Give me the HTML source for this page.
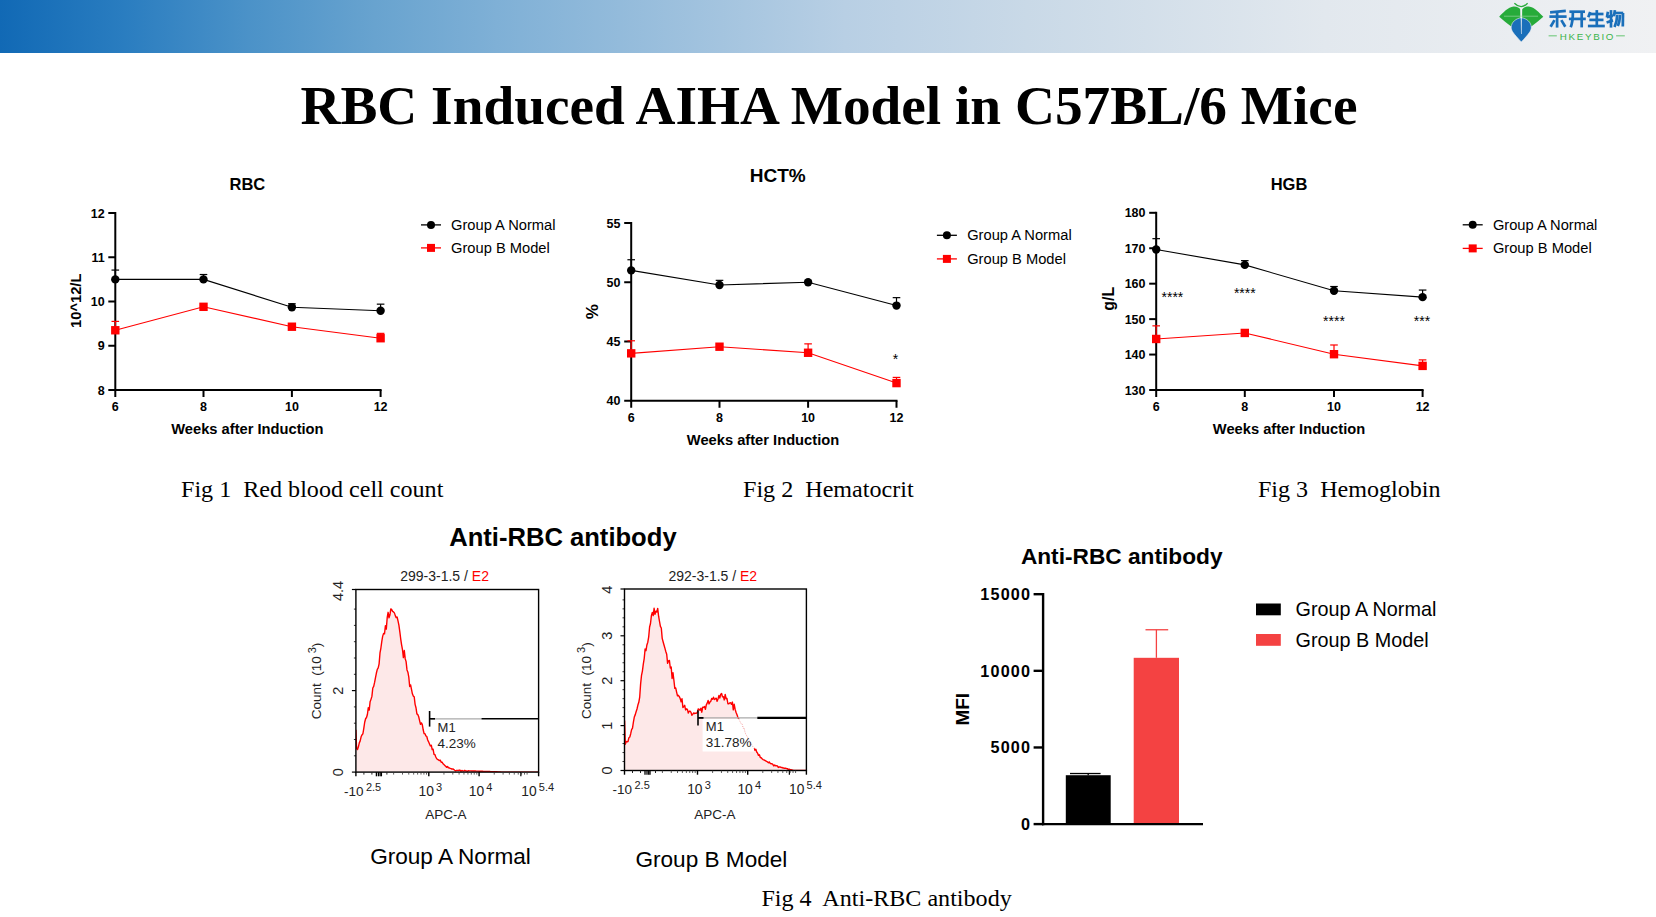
<!DOCTYPE html>
<html><head><meta charset="utf-8"><title>RBC Induced AIHA Model</title>
<style>html,body{margin:0;padding:0;background:#fff;overflow:hidden}body{width:1656px;height:917px;position:relative;font-family:"Liberation Sans", sans-serif}</style>
</head><body>
<svg width="1656" height="917" viewBox="0 0 1656 917" style="position:absolute;left:0;top:0">
<defs><linearGradient id="hdr" x1="0" y1="0" x2="1" y2="0"><stop offset="0" stop-color="#1169b5"/><stop offset="0.075" stop-color="#2a7dc0"/><stop offset="0.15" stop-color="#4b92c8"/><stop offset="0.226" stop-color="#68a3cf"/><stop offset="0.30" stop-color="#7fb0d6"/><stop offset="0.51" stop-color="#b8cfe4"/><stop offset="0.62" stop-color="#c9d9e7"/><stop offset="0.8" stop-color="#e2e8ee"/><stop offset="1" stop-color="#f0f1f3"/></linearGradient></defs>
<rect x="0" y="0" width="1656" height="53" fill="url(#hdr)"/>
<path d="M1499.2,16.7 C1503,13 1508,7 1513.6,6.6 C1517,6.4 1519.5,8 1520.3,9.5 L1520.6,26 L1511.2,26.5 C1507,23.5 1503,20 1499.2,16.7 Z" fill="#27ab3a"/>
<path d="M1543.3,16.7 C1539.5,13 1534.5,7 1528.9,6.4 C1525.5,6.2 1523,8 1522.2,9.5 L1522,26 L1531.3,26.5 C1535.5,23.5 1539.5,20 1543.3,16.7 Z" fill="#27ab3a"/>
<path d="M1521.3,17.7 C1516,18.5 1511.2,22 1511.2,27.5 C1511.2,31 1514,34 1521.3,42 C1528.6,34 1531.3,31 1531.3,27.5 C1531.3,22 1526.6,18.5 1521.3,17.7 Z" fill="#1a6fba" stroke="#eef0f2" stroke-width="0.6"/>
<path d="M1520.6,8.3 L1522,8.3 L1521.6,34 L1521,34 Z" fill="#f4f6f8" opacity="0.95"/>
<path d="M1504,16.2 L1538,16.2" stroke="#9fdca8" stroke-width="0.8" opacity="0.8"/>
<path d="M1514.4,3.2 Q1521.3,10 1527.6,3.2" fill="none" stroke="#27ab3a" stroke-width="1.3"/>
<path d="M1550.1,12.3 L1565.8,10.9" stroke="#1a6fba" stroke-width="2.7" stroke-linecap="butt" fill="none"/>
<path d="M1549.4,16.6 L1566.6,16.6" stroke="#1a6fba" stroke-width="2.7" stroke-linecap="butt" fill="none"/>
<path d="M1557.1,11.5 L1557.1,27.6" stroke="#1a6fba" stroke-width="2.7" stroke-linecap="butt" fill="none"/>
<path d="M1554.5,20.1 L1550.6,26.8" stroke="#1a6fba" stroke-width="2.7" stroke-linecap="butt" fill="none"/>
<path d="M1561.3,20.1 L1565.3,26.8" stroke="#1a6fba" stroke-width="2.7" stroke-linecap="butt" fill="none"/>
<path d="M1569.4,11.7 L1585,11.7" stroke="#1a6fba" stroke-width="2.7" stroke-linecap="butt" fill="none"/>
<path d="M1568.9,18.9 L1585.8,18.9" stroke="#1a6fba" stroke-width="2.7" stroke-linecap="butt" fill="none"/>
<path d="M1572.9,11.7 C1572.9,20 1572,24 1570.7,27.3" stroke="#1a6fba" stroke-width="2.7" stroke-linecap="butt" fill="none"/>
<path d="M1581.7,11.7 L1581.7,27.4" stroke="#1a6fba" stroke-width="2.7" stroke-linecap="butt" fill="none"/>
<path d="M1590.2,12 L1588.3,17.3" stroke="#1a6fba" stroke-width="2.7" stroke-linecap="butt" fill="none"/>
<path d="M1589.5,14 L1603.5,14" stroke="#1a6fba" stroke-width="2.7" stroke-linecap="butt" fill="none"/>
<path d="M1596.8,10.1 L1596.8,25.5" stroke="#1a6fba" stroke-width="2.7" stroke-linecap="butt" fill="none"/>
<path d="M1589.3,19.9 L1603.5,19.9" stroke="#1a6fba" stroke-width="2.7" stroke-linecap="butt" fill="none"/>
<path d="M1587.9,26 L1604.8,26" stroke="#1a6fba" stroke-width="2.7" stroke-linecap="butt" fill="none"/>
<path d="M1611,10.1 L1611,27.6" stroke="#1a6fba" stroke-width="2.7" stroke-linecap="butt" fill="none"/>
<path d="M1607.9,11.7 L1606.9,17.6" stroke="#1a6fba" stroke-width="2.7" stroke-linecap="butt" fill="none"/>
<path d="M1606.9,17.1 L1613,15.6" stroke="#1a6fba" stroke-width="2.7" stroke-linecap="butt" fill="none"/>
<path d="M1606.6,22.5 L1613,20.4" stroke="#1a6fba" stroke-width="2.7" stroke-linecap="butt" fill="none"/>
<path d="M1614.9,10.1 L1613.9,16.3" stroke="#1a6fba" stroke-width="2.7" stroke-linecap="butt" fill="none"/>
<path d="M1614.8,13 L1623.2,13" stroke="#1a6fba" stroke-width="2.7" stroke-linecap="butt" fill="none"/>
<path d="M1623,13 L1622.8,26.6" stroke="#1a6fba" stroke-width="2.7" stroke-linecap="butt" fill="none"/>
<path d="M1617.2,15 C1617,20 1616,24 1614.5,27" stroke="#1a6fba" stroke-width="2.7" stroke-linecap="butt" fill="none"/>
<path d="M1620,15 C1619.8,20 1619,23.5 1617.8,26" stroke="#1a6fba" stroke-width="2.7" stroke-linecap="butt" fill="none"/>
<text x="1559.7" y="39.9" font-size="9.8" font-family='"Liberation Sans", sans-serif' fill="#3cb54a" letter-spacing="1.7">HKEYBIO</text>
<line x1="1548.60" y1="35.80" x2="1556.80" y2="35.80" stroke="#7ccc86" stroke-width="1.2" />
<line x1="1616.10" y1="35.80" x2="1624.80" y2="35.80" stroke="#7ccc86" stroke-width="1.2" />
<text x="829.00" y="124.30" font-size="55.3" text-anchor="middle" font-weight="bold" fill="#000" font-family='"Liberation Serif", serif' >RBC Induced AIHA Model in C57BL/6 Mice</text>
<line x1="115.30" y1="212.00" x2="115.30" y2="391.00" stroke="#000" stroke-width="2" />
<line x1="114.30" y1="390.00" x2="381.60" y2="390.00" stroke="#000" stroke-width="2" />
<line x1="108.30" y1="213.00" x2="115.30" y2="213.00" stroke="#000" stroke-width="2" />
<text transform="translate(104.60,217.60) scale(0.92,1)" font-size="13.6" text-anchor="end" font-weight="bold" font-family='"Liberation Sans", sans-serif'>12</text>
<line x1="108.30" y1="257.25" x2="115.30" y2="257.25" stroke="#000" stroke-width="2" />
<text transform="translate(104.60,261.85) scale(0.92,1)" font-size="13.6" text-anchor="end" font-weight="bold" font-family='"Liberation Sans", sans-serif'>11</text>
<line x1="108.30" y1="301.50" x2="115.30" y2="301.50" stroke="#000" stroke-width="2" />
<text transform="translate(104.60,306.10) scale(0.92,1)" font-size="13.6" text-anchor="end" font-weight="bold" font-family='"Liberation Sans", sans-serif'>10</text>
<line x1="108.30" y1="345.75" x2="115.30" y2="345.75" stroke="#000" stroke-width="2" />
<text transform="translate(104.60,350.35) scale(0.92,1)" font-size="13.6" text-anchor="end" font-weight="bold" font-family='"Liberation Sans", sans-serif'>9</text>
<line x1="108.30" y1="390.00" x2="115.30" y2="390.00" stroke="#000" stroke-width="2" />
<text transform="translate(104.60,394.60) scale(0.92,1)" font-size="13.6" text-anchor="end" font-weight="bold" font-family='"Liberation Sans", sans-serif'>8</text>
<line x1="115.30" y1="390.00" x2="115.30" y2="397.00" stroke="#000" stroke-width="2" />
<text transform="translate(115.30,411.30) scale(0.92,1)" font-size="13.6" text-anchor="middle" font-weight="bold" font-family='"Liberation Sans", sans-serif'>6</text>
<line x1="203.50" y1="390.00" x2="203.50" y2="397.00" stroke="#000" stroke-width="2" />
<text transform="translate(203.50,411.30) scale(0.92,1)" font-size="13.6" text-anchor="middle" font-weight="bold" font-family='"Liberation Sans", sans-serif'>8</text>
<line x1="291.90" y1="390.00" x2="291.90" y2="397.00" stroke="#000" stroke-width="2" />
<text transform="translate(291.90,411.30) scale(0.92,1)" font-size="13.6" text-anchor="middle" font-weight="bold" font-family='"Liberation Sans", sans-serif'>10</text>
<line x1="380.60" y1="390.00" x2="380.60" y2="397.00" stroke="#000" stroke-width="2" />
<text transform="translate(380.60,411.30) scale(0.92,1)" font-size="13.6" text-anchor="middle" font-weight="bold" font-family='"Liberation Sans", sans-serif'>12</text>
<polyline points="115.30,279.38 203.50,279.38 291.90,307.25 380.60,310.79" fill="none" stroke="#000" stroke-width="1.1"/>
<line x1="115.30" y1="279.38" x2="115.30" y2="270.08" stroke="#000" stroke-width="1.2" />
<line x1="111.50" y1="270.08" x2="119.10" y2="270.08" stroke="#000" stroke-width="1.2" />
<line x1="203.50" y1="279.38" x2="203.50" y2="274.51" stroke="#000" stroke-width="1.2" />
<line x1="199.70" y1="274.51" x2="207.30" y2="274.51" stroke="#000" stroke-width="1.2" />
<line x1="291.90" y1="307.25" x2="291.90" y2="303.71" stroke="#000" stroke-width="1.2" />
<line x1="288.10" y1="303.71" x2="295.70" y2="303.71" stroke="#000" stroke-width="1.2" />
<line x1="380.60" y1="310.79" x2="380.60" y2="304.16" stroke="#000" stroke-width="1.2" />
<line x1="376.80" y1="304.16" x2="384.40" y2="304.16" stroke="#000" stroke-width="1.2" />
<circle cx="115.30" cy="279.38" r="4.2" fill="#000"/>
<circle cx="203.50" cy="279.38" r="4.2" fill="#000"/>
<circle cx="291.90" cy="307.25" r="4.2" fill="#000"/>
<circle cx="380.60" cy="310.79" r="4.2" fill="#000"/>
<polyline points="115.30,330.26 203.50,306.81 291.90,326.72 380.60,338.23" fill="none" stroke="#f00" stroke-width="1.1"/>
<line x1="115.30" y1="330.26" x2="115.30" y2="321.41" stroke="#f00" stroke-width="1.2" />
<line x1="111.50" y1="321.41" x2="119.10" y2="321.41" stroke="#f00" stroke-width="1.2" />
<line x1="380.60" y1="338.23" x2="380.60" y2="333.36" stroke="#f00" stroke-width="1.2" />
<line x1="376.80" y1="333.36" x2="384.40" y2="333.36" stroke="#f00" stroke-width="1.2" />
<rect x="111.10" y="326.06" width="8.4" height="8.4" fill="#f00"/>
<rect x="199.30" y="302.61" width="8.4" height="8.4" fill="#f00"/>
<rect x="287.70" y="322.52" width="8.4" height="8.4" fill="#f00"/>
<rect x="376.40" y="334.03" width="8.4" height="8.4" fill="#f00"/>
<text x="247.40" y="190.00" font-size="16.5" text-anchor="middle" font-weight="bold" fill="#000" font-family='"Liberation Sans", sans-serif' >RBC</text>
<text x="247.40" y="433.50" font-size="14.7" text-anchor="middle" font-weight="bold" fill="#000" font-family='"Liberation Sans", sans-serif' >Weeks after Induction</text>
<text transform="translate(81.30,300.80) rotate(-90)" font-size="14.7" text-anchor="middle" font-weight="bold" font-family='"Liberation Sans", sans-serif'>10^12/L</text>
<line x1="421.00" y1="224.90" x2="441.00" y2="224.90" stroke="#000" stroke-width="1.3" />
<circle cx="431.00" cy="224.90" r="4" fill="#000"/>
<text x="451.00" y="229.70" font-size="14.7" text-anchor="start" font-weight="normal" fill="#000" font-family='"Liberation Sans", sans-serif' >Group A Normal</text>
<line x1="421.00" y1="247.90" x2="441.00" y2="247.90" stroke="#f00" stroke-width="1.3" />
<rect x="427.00" y="243.90" width="8" height="8" fill="#f00"/>
<text x="451.00" y="252.70" font-size="14.7" text-anchor="start" font-weight="normal" fill="#000" font-family='"Liberation Sans", sans-serif' >Group B Model</text>
<line x1="631.20" y1="222.00" x2="631.20" y2="401.75" stroke="#000" stroke-width="2" />
<line x1="630.20" y1="400.75" x2="897.50" y2="400.75" stroke="#000" stroke-width="2" />
<line x1="624.20" y1="223.00" x2="631.20" y2="223.00" stroke="#000" stroke-width="2" />
<text transform="translate(620.50,227.60) scale(0.92,1)" font-size="13.6" text-anchor="end" font-weight="bold" font-family='"Liberation Sans", sans-serif'>55</text>
<line x1="624.20" y1="282.25" x2="631.20" y2="282.25" stroke="#000" stroke-width="2" />
<text transform="translate(620.50,286.85) scale(0.92,1)" font-size="13.6" text-anchor="end" font-weight="bold" font-family='"Liberation Sans", sans-serif'>50</text>
<line x1="624.20" y1="341.50" x2="631.20" y2="341.50" stroke="#000" stroke-width="2" />
<text transform="translate(620.50,346.10) scale(0.92,1)" font-size="13.6" text-anchor="end" font-weight="bold" font-family='"Liberation Sans", sans-serif'>45</text>
<line x1="624.20" y1="400.75" x2="631.20" y2="400.75" stroke="#000" stroke-width="2" />
<text transform="translate(620.50,405.35) scale(0.92,1)" font-size="13.6" text-anchor="end" font-weight="bold" font-family='"Liberation Sans", sans-serif'>40</text>
<line x1="631.20" y1="400.75" x2="631.20" y2="407.75" stroke="#000" stroke-width="2" />
<text transform="translate(631.20,422.05) scale(0.92,1)" font-size="13.6" text-anchor="middle" font-weight="bold" font-family='"Liberation Sans", sans-serif'>6</text>
<line x1="719.50" y1="400.75" x2="719.50" y2="407.75" stroke="#000" stroke-width="2" />
<text transform="translate(719.50,422.05) scale(0.92,1)" font-size="13.6" text-anchor="middle" font-weight="bold" font-family='"Liberation Sans", sans-serif'>8</text>
<line x1="808.10" y1="400.75" x2="808.10" y2="407.75" stroke="#000" stroke-width="2" />
<text transform="translate(808.10,422.05) scale(0.92,1)" font-size="13.6" text-anchor="middle" font-weight="bold" font-family='"Liberation Sans", sans-serif'>10</text>
<line x1="896.50" y1="400.75" x2="896.50" y2="407.75" stroke="#000" stroke-width="2" />
<text transform="translate(896.50,422.05) scale(0.92,1)" font-size="13.6" text-anchor="middle" font-weight="bold" font-family='"Liberation Sans", sans-serif'>12</text>
<polyline points="631.20,270.40 719.50,284.98 808.10,282.25 896.50,305.59" fill="none" stroke="#000" stroke-width="1.1"/>
<line x1="631.20" y1="270.40" x2="631.20" y2="259.74" stroke="#000" stroke-width="1.2" />
<line x1="627.40" y1="259.74" x2="635.00" y2="259.74" stroke="#000" stroke-width="1.2" />
<line x1="719.50" y1="284.98" x2="719.50" y2="280.35" stroke="#000" stroke-width="1.2" />
<line x1="715.70" y1="280.35" x2="723.30" y2="280.35" stroke="#000" stroke-width="1.2" />
<line x1="896.50" y1="305.59" x2="896.50" y2="297.65" stroke="#000" stroke-width="1.2" />
<line x1="892.70" y1="297.65" x2="900.30" y2="297.65" stroke="#000" stroke-width="1.2" />
<circle cx="631.20" cy="270.40" r="4.2" fill="#000"/>
<circle cx="719.50" cy="284.98" r="4.2" fill="#000"/>
<circle cx="808.10" cy="282.25" r="4.2" fill="#000"/>
<circle cx="896.50" cy="305.59" r="4.2" fill="#000"/>
<polyline points="631.20,353.35 719.50,346.71 808.10,352.76 896.50,383.09" fill="none" stroke="#f00" stroke-width="1.1"/>
<line x1="631.20" y1="353.35" x2="631.20" y2="340.79" stroke="#f00" stroke-width="1.2" />
<line x1="627.40" y1="340.79" x2="635.00" y2="340.79" stroke="#f00" stroke-width="1.2" />
<line x1="808.10" y1="352.76" x2="808.10" y2="343.87" stroke="#f00" stroke-width="1.2" />
<line x1="804.30" y1="343.87" x2="811.90" y2="343.87" stroke="#f00" stroke-width="1.2" />
<line x1="896.50" y1="383.09" x2="896.50" y2="377.41" stroke="#f00" stroke-width="1.2" />
<line x1="892.70" y1="377.41" x2="900.30" y2="377.41" stroke="#f00" stroke-width="1.2" />
<rect x="627.00" y="349.15" width="8.4" height="8.4" fill="#f00"/>
<rect x="715.30" y="342.51" width="8.4" height="8.4" fill="#f00"/>
<rect x="803.90" y="348.56" width="8.4" height="8.4" fill="#f00"/>
<rect x="892.30" y="378.89" width="8.4" height="8.4" fill="#f00"/>
<text x="777.70" y="182.00" font-size="19" text-anchor="middle" font-weight="bold" fill="#000" font-family='"Liberation Sans", sans-serif' >HCT%</text>
<text x="763.00" y="444.50" font-size="14.7" text-anchor="middle" font-weight="bold" fill="#000" font-family='"Liberation Sans", sans-serif' >Weeks after Induction</text>
<text transform="translate(597.50,311.60) rotate(-90)" font-size="17" text-anchor="middle" font-weight="bold" font-family='"Liberation Sans", sans-serif'>%</text>
<text x="895.50" y="364.00" font-size="14" text-anchor="middle" font-weight="normal" fill="#000" font-family='"Liberation Sans", sans-serif' >*</text>
<line x1="936.90" y1="235.30" x2="956.90" y2="235.30" stroke="#000" stroke-width="1.3" />
<circle cx="946.90" cy="235.30" r="4" fill="#000"/>
<text x="967.20" y="240.10" font-size="14.7" text-anchor="start" font-weight="normal" fill="#000" font-family='"Liberation Sans", sans-serif' >Group A Normal</text>
<line x1="936.90" y1="258.90" x2="956.90" y2="258.90" stroke="#f00" stroke-width="1.3" />
<rect x="942.90" y="254.90" width="8" height="8" fill="#f00"/>
<text x="967.20" y="263.70" font-size="14.7" text-anchor="start" font-weight="normal" fill="#000" font-family='"Liberation Sans", sans-serif' >Group B Model</text>
<line x1="1156.20" y1="211.80" x2="1156.20" y2="391.00" stroke="#000" stroke-width="2" />
<line x1="1155.20" y1="390.00" x2="1423.60" y2="390.00" stroke="#000" stroke-width="2" />
<line x1="1149.20" y1="212.80" x2="1156.20" y2="212.80" stroke="#000" stroke-width="2" />
<text transform="translate(1145.50,217.40) scale(0.92,1)" font-size="13.6" text-anchor="end" font-weight="bold" font-family='"Liberation Sans", sans-serif'>180</text>
<line x1="1149.20" y1="248.24" x2="1156.20" y2="248.24" stroke="#000" stroke-width="2" />
<text transform="translate(1145.50,252.84) scale(0.92,1)" font-size="13.6" text-anchor="end" font-weight="bold" font-family='"Liberation Sans", sans-serif'>170</text>
<line x1="1149.20" y1="283.68" x2="1156.20" y2="283.68" stroke="#000" stroke-width="2" />
<text transform="translate(1145.50,288.28) scale(0.92,1)" font-size="13.6" text-anchor="end" font-weight="bold" font-family='"Liberation Sans", sans-serif'>160</text>
<line x1="1149.20" y1="319.12" x2="1156.20" y2="319.12" stroke="#000" stroke-width="2" />
<text transform="translate(1145.50,323.72) scale(0.92,1)" font-size="13.6" text-anchor="end" font-weight="bold" font-family='"Liberation Sans", sans-serif'>150</text>
<line x1="1149.20" y1="354.56" x2="1156.20" y2="354.56" stroke="#000" stroke-width="2" />
<text transform="translate(1145.50,359.16) scale(0.92,1)" font-size="13.6" text-anchor="end" font-weight="bold" font-family='"Liberation Sans", sans-serif'>140</text>
<line x1="1149.20" y1="390.00" x2="1156.20" y2="390.00" stroke="#000" stroke-width="2" />
<text transform="translate(1145.50,394.60) scale(0.92,1)" font-size="13.6" text-anchor="end" font-weight="bold" font-family='"Liberation Sans", sans-serif'>130</text>
<line x1="1156.20" y1="390.00" x2="1156.20" y2="397.00" stroke="#000" stroke-width="2" />
<text transform="translate(1156.20,411.30) scale(0.92,1)" font-size="13.6" text-anchor="middle" font-weight="bold" font-family='"Liberation Sans", sans-serif'>6</text>
<line x1="1244.80" y1="390.00" x2="1244.80" y2="397.00" stroke="#000" stroke-width="2" />
<text transform="translate(1244.80,411.30) scale(0.92,1)" font-size="13.6" text-anchor="middle" font-weight="bold" font-family='"Liberation Sans", sans-serif'>8</text>
<line x1="1334.00" y1="390.00" x2="1334.00" y2="397.00" stroke="#000" stroke-width="2" />
<text transform="translate(1334.00,411.30) scale(0.92,1)" font-size="13.6" text-anchor="middle" font-weight="bold" font-family='"Liberation Sans", sans-serif'>10</text>
<line x1="1422.60" y1="390.00" x2="1422.60" y2="397.00" stroke="#000" stroke-width="2" />
<text transform="translate(1422.60,411.30) scale(0.92,1)" font-size="13.6" text-anchor="middle" font-weight="bold" font-family='"Liberation Sans", sans-serif'>12</text>
<polyline points="1156.20,249.48 1244.80,264.90 1334.00,290.77 1422.60,297.15" fill="none" stroke="#000" stroke-width="1.1"/>
<line x1="1156.20" y1="249.48" x2="1156.20" y2="238.67" stroke="#000" stroke-width="1.2" />
<line x1="1152.40" y1="238.67" x2="1160.00" y2="238.67" stroke="#000" stroke-width="1.2" />
<line x1="1244.80" y1="264.90" x2="1244.80" y2="260.64" stroke="#000" stroke-width="1.2" />
<line x1="1241.00" y1="260.64" x2="1248.60" y2="260.64" stroke="#000" stroke-width="1.2" />
<line x1="1334.00" y1="290.77" x2="1334.00" y2="286.52" stroke="#000" stroke-width="1.2" />
<line x1="1330.20" y1="286.52" x2="1337.80" y2="286.52" stroke="#000" stroke-width="1.2" />
<line x1="1422.60" y1="297.15" x2="1422.60" y2="290.06" stroke="#000" stroke-width="1.2" />
<line x1="1418.80" y1="290.06" x2="1426.40" y2="290.06" stroke="#000" stroke-width="1.2" />
<circle cx="1156.20" cy="249.48" r="4.2" fill="#000"/>
<circle cx="1244.80" cy="264.90" r="4.2" fill="#000"/>
<circle cx="1334.00" cy="290.77" r="4.2" fill="#000"/>
<circle cx="1422.60" cy="297.15" r="4.2" fill="#000"/>
<polyline points="1156.20,338.97 1244.80,332.94 1334.00,354.21 1422.60,365.90" fill="none" stroke="#f00" stroke-width="1.1"/>
<line x1="1156.20" y1="338.97" x2="1156.20" y2="325.85" stroke="#f00" stroke-width="1.2" />
<line x1="1152.40" y1="325.85" x2="1160.00" y2="325.85" stroke="#f00" stroke-width="1.2" />
<line x1="1334.00" y1="354.21" x2="1334.00" y2="344.99" stroke="#f00" stroke-width="1.2" />
<line x1="1330.20" y1="344.99" x2="1337.80" y2="344.99" stroke="#f00" stroke-width="1.2" />
<line x1="1422.60" y1="365.90" x2="1422.60" y2="359.88" stroke="#f00" stroke-width="1.2" />
<line x1="1418.80" y1="359.88" x2="1426.40" y2="359.88" stroke="#f00" stroke-width="1.2" />
<rect x="1152.00" y="334.77" width="8.4" height="8.4" fill="#f00"/>
<rect x="1240.60" y="328.74" width="8.4" height="8.4" fill="#f00"/>
<rect x="1329.80" y="350.01" width="8.4" height="8.4" fill="#f00"/>
<rect x="1418.40" y="361.70" width="8.4" height="8.4" fill="#f00"/>
<text x="1289.00" y="190.00" font-size="16.5" text-anchor="middle" font-weight="bold" fill="#000" font-family='"Liberation Sans", sans-serif' >HGB</text>
<text x="1289.00" y="433.50" font-size="14.7" text-anchor="middle" font-weight="bold" fill="#000" font-family='"Liberation Sans", sans-serif' >Weeks after Induction</text>
<text transform="translate(1114.40,298.80) rotate(-90)" font-size="15.8" text-anchor="middle" font-weight="bold" font-family='"Liberation Sans", sans-serif'>g/L</text>
<text x="1172.40" y="302.00" font-size="14" text-anchor="middle" font-weight="normal" fill="#000" font-family='"Liberation Sans", sans-serif' >****</text>
<text x="1244.80" y="298.00" font-size="14" text-anchor="middle" font-weight="normal" fill="#000" font-family='"Liberation Sans", sans-serif' >****</text>
<text x="1334.00" y="325.50" font-size="14" text-anchor="middle" font-weight="normal" fill="#000" font-family='"Liberation Sans", sans-serif' >****</text>
<text x="1422.00" y="325.50" font-size="14" text-anchor="middle" font-weight="normal" fill="#000" font-family='"Liberation Sans", sans-serif' >***</text>
<line x1="1462.70" y1="224.80" x2="1482.70" y2="224.80" stroke="#000" stroke-width="1.3" />
<circle cx="1472.70" cy="224.80" r="4" fill="#000"/>
<text x="1492.90" y="229.60" font-size="14.7" text-anchor="start" font-weight="normal" fill="#000" font-family='"Liberation Sans", sans-serif' >Group A Normal</text>
<line x1="1462.70" y1="248.40" x2="1482.70" y2="248.40" stroke="#f00" stroke-width="1.3" />
<rect x="1468.70" y="244.40" width="8" height="8" fill="#f00"/>
<text x="1492.90" y="253.20" font-size="14.7" text-anchor="start" font-weight="normal" fill="#000" font-family='"Liberation Sans", sans-serif' >Group B Model</text>
<text x="181.00" y="496.60" font-size="24.1" text-anchor="start" font-weight="normal" fill="#000" font-family='"Liberation Serif", serif' >Fig 1&#160; Red blood cell count</text>
<text x="743.00" y="496.60" font-size="24.1" text-anchor="start" font-weight="normal" fill="#000" font-family='"Liberation Serif", serif' >Fig 2&#160; Hematocrit</text>
<text x="1257.90" y="496.60" font-size="24.1" text-anchor="start" font-weight="normal" fill="#000" font-family='"Liberation Serif", serif' >Fig 3&#160; Hemoglobin</text>
<text x="761.40" y="905.90" font-size="24.1" text-anchor="start" font-weight="normal" fill="#000" font-family='"Liberation Serif", serif' >Fig 4&#160; Anti-RBC antibody</text>
<text x="562.90" y="546.00" font-size="25.6" text-anchor="middle" font-weight="bold" fill="#000" font-family='"Liberation Sans", sans-serif' >Anti-RBC antibody</text>
<clipPath id="clipA"><rect x="355.90" y="589.50" width="182.70" height="182.60"/></clipPath>
<path d="M355.90,729.89 L356.60,748.56 L357.50,749.48 L358.40,746.82 L359.30,742.86 L360.20,740.91 L361.10,736.80 L362.00,734.88 L362.90,733.75 L363.80,728.33 L364.70,722.26 L365.60,718.71 L366.50,717.49 L367.40,714.49 L368.30,707.59 L369.20,710.15 L370.10,701.78 L371.00,699.37 L371.90,696.41 L372.80,687.99 L373.70,686.33 L374.60,682.41 L375.50,677.67 L376.40,673.03 L377.30,669.37 L378.20,667.95 L379.10,663.85 L380.00,652.99 L380.90,648.02 L381.80,641.42 L382.70,636.13 L383.60,633.36 L384.50,633.85 L385.40,625.71 L386.30,629.07 L387.20,617.71 L388.10,612.32 L389.00,617.84 L389.90,615.06 L390.80,608.87 L391.70,609.59 L392.60,611.39 L393.50,611.94 L394.40,612.88 L395.30,615.62 L396.20,617.63 L397.10,617.02 L398.00,620.94 L398.90,625.21 L399.80,631.60 L400.70,638.78 L401.60,644.82 L402.50,649.55 L403.40,657.55 L404.30,650.51 L405.20,658.70 L406.10,661.63 L407.00,669.93 L407.90,672.23 L408.80,677.19 L409.70,686.47 L410.60,684.87 L411.50,689.48 L412.40,693.84 L413.30,696.10 L414.20,696.76 L415.10,704.36 L416.00,707.76 L416.90,713.84 L417.80,714.59 L418.70,716.74 L419.60,720.64 L420.50,724.34 L421.40,722.89 L422.30,724.68 L423.20,729.78 L424.10,733.64 L425.00,733.70 L425.90,735.97 L426.80,736.51 L427.70,739.95 L428.60,741.83 L429.50,743.96 L430.40,745.97 L431.30,745.14 L432.20,749.63 L433.10,749.13 L434.00,754.27 L434.90,754.61 L435.80,757.00 L436.70,758.71 L437.60,759.35 L438.50,759.95 L439.40,760.58 L440.30,760.14 L441.20,762.36 L442.10,762.16 L443.00,763.73 L443.90,764.54 L444.80,765.39 L445.70,766.21 L446.60,767.29 L447.50,766.49 L448.40,767.71 L449.30,767.86 L450.20,768.41 L451.10,768.67 L452.00,769.18 L452.90,768.86 L453.80,769.53 L454.70,770.25 L455.60,770.93 L456.50,770.41 L457.40,770.38 L458.30,770.55 L459.20,770.07 L460.10,770.25 L461.00,771.18 L461.90,770.50 L462.80,770.84 L463.70,771.07 L464.60,770.40 L465.50,770.75 L466.40,770.97 L467.30,771.31 L468.20,770.74 L469.10,770.91 L470.00,770.84 L470.90,770.90 L471.80,770.94 L472.70,770.97 L473.60,771.00 L474.50,771.03 L475.40,771.07 L476.30,771.10 L477.20,771.13 L478.10,771.17 L479.00,771.20 L479.90,771.23 L480.80,771.26 L481.70,771.29 L482.60,771.32 L483.50,771.35 L484.40,771.38 L485.30,771.41 L486.20,771.44 L487.10,771.47 L488.00,771.50 L488.90,771.53 L489.80,771.56 L490.70,771.59 L491.60,771.62 L492.50,771.65 L493.40,771.68 L494.30,771.71 L495.20,771.74 L496.10,771.77 L497.00,771.80 L497.90,771.83 L498.80,771.86 L499.70,771.89 L500.60,772.06 L501.50,772.10 L502.40,772.10 L503.30,772.10 L504.20,772.10 L505.10,772.10 L506.00,772.10 L506.90,772.10 L507.80,772.10 L508.70,772.10 L509.60,772.10 L510.50,772.10 L511.40,772.10 L512.30,772.10 L513.20,772.10 L514.10,772.10 L515.00,772.10 L515.90,772.10 L516.80,772.10 L517.70,772.10 L518.60,772.10 L519.50,772.10 L520.40,772.10 L521.30,772.10 L522.20,772.10 L523.10,772.10 L524.00,772.10 L524.90,772.10 L525.80,772.10 L526.70,772.10 L527.60,772.10 L528.50,772.10 L529.40,772.10 L530.30,772.10 L531.20,772.10 L532.10,772.10 L533.00,772.10 L533.90,772.10 L534.80,772.10 L535.70,772.10 L536.60,772.10 L537.50,772.10 L538.40,772.10 L538.60,772.10 L538.60,772.10 L355.90,772.10 Z" fill="#fde8e8" stroke="none" clip-path="url(#clipA)"/>
<path d="M355.90,729.89 L356.60,748.56 L357.50,749.48 L358.40,746.82 L359.30,742.86 L360.20,740.91 L361.10,736.80 L362.00,734.88 L362.90,733.75 L363.80,728.33 L364.70,722.26 L365.60,718.71 L366.50,717.49 L367.40,714.49 L368.30,707.59 L369.20,710.15 L370.10,701.78 L371.00,699.37 L371.90,696.41 L372.80,687.99 L373.70,686.33 L374.60,682.41 L375.50,677.67 L376.40,673.03 L377.30,669.37 L378.20,667.95 L379.10,663.85 L380.00,652.99 L380.90,648.02 L381.80,641.42 L382.70,636.13 L383.60,633.36 L384.50,633.85 L385.40,625.71 L386.30,629.07 L387.20,617.71 L388.10,612.32 L389.00,617.84 L389.90,615.06 L390.80,608.87 L391.70,609.59 L392.60,611.39 L393.50,611.94 L394.40,612.88 L395.30,615.62 L396.20,617.63 L397.10,617.02 L398.00,620.94 L398.90,625.21 L399.80,631.60 L400.70,638.78 L401.60,644.82 L402.50,649.55 L403.40,657.55 L404.30,650.51 L405.20,658.70 L406.10,661.63 L407.00,669.93 L407.90,672.23 L408.80,677.19 L409.70,686.47 L410.60,684.87 L411.50,689.48 L412.40,693.84 L413.30,696.10 L414.20,696.76 L415.10,704.36 L416.00,707.76 L416.90,713.84 L417.80,714.59 L418.70,716.74 L419.60,720.64 L420.50,724.34 L421.40,722.89 L422.30,724.68 L423.20,729.78 L424.10,733.64 L425.00,733.70 L425.90,735.97 L426.80,736.51 L427.70,739.95 L428.60,741.83 L429.50,743.96 L430.40,745.97 L431.30,745.14 L432.20,749.63 L433.10,749.13 L434.00,754.27 L434.90,754.61 L435.80,757.00 L436.70,758.71 L437.60,759.35 L438.50,759.95 L439.40,760.58 L440.30,760.14 L441.20,762.36 L442.10,762.16 L443.00,763.73 L443.90,764.54 L444.80,765.39 L445.70,766.21 L446.60,767.29 L447.50,766.49 L448.40,767.71 L449.30,767.86 L450.20,768.41 L451.10,768.67 L452.00,769.18 L452.90,768.86 L453.80,769.53 L454.70,770.25 L455.60,770.93 L456.50,770.41 L457.40,770.38 L458.30,770.55 L459.20,770.07 L460.10,770.25 L461.00,771.18 L461.90,770.50 L462.80,770.84 L463.70,771.07 L464.60,770.40 L465.50,770.75 L466.40,770.97 L467.30,771.31 L468.20,770.74 L469.10,770.91 L470.00,770.84 L470.90,770.90 L471.80,770.94 L472.70,770.97 L473.60,771.00 L474.50,771.03 L475.40,771.07 L476.30,771.10 L477.20,771.13 L478.10,771.17 L479.00,771.20 L479.90,771.23 L480.80,771.26 L481.70,771.29 L482.60,771.32 L483.50,771.35 L484.40,771.38 L485.30,771.41 L486.20,771.44 L487.10,771.47 L488.00,771.50 L488.90,771.53 L489.80,771.56 L490.70,771.59 L491.60,771.62 L492.50,771.65 L493.40,771.68 L494.30,771.71 L495.20,771.74 L496.10,771.77 L497.00,771.80 L497.90,771.83 L498.80,771.86 L499.70,771.89 L500.60,772.06 L501.50,772.10 L502.40,772.10 L503.30,772.10 L504.20,772.10 L505.10,772.10 L506.00,772.10 L506.90,772.10 L507.80,772.10 L508.70,772.10 L509.60,772.10 L510.50,772.10 L511.40,772.10 L512.30,772.10 L513.20,772.10 L514.10,772.10 L515.00,772.10 L515.90,772.10 L516.80,772.10 L517.70,772.10 L518.60,772.10 L519.50,772.10 L520.40,772.10 L521.30,772.10 L522.20,772.10 L523.10,772.10 L524.00,772.10 L524.90,772.10 L525.80,772.10 L526.70,772.10 L527.60,772.10 L528.50,772.10 L529.40,772.10 L530.30,772.10 L531.20,772.10 L532.10,772.10 L533.00,772.10 L533.90,772.10 L534.80,772.10 L535.70,772.10 L536.60,772.10 L537.50,772.10 L538.40,772.10 L538.60,772.10" fill="none" stroke="#f00" stroke-width="1.4" stroke-linejoin="round" clip-path="url(#clipA)"/>
<rect x="355.90" y="589.50" width="182.70" height="182.60" fill="none" stroke="#000" stroke-width="1.4"/>
<line x1="351.90" y1="772.10" x2="355.90" y2="772.10" stroke="#000" stroke-width="1.2" />
<line x1="353.90" y1="755.80" x2="355.90" y2="755.80" stroke="#000" stroke-width="0.8" />
<line x1="353.90" y1="739.50" x2="355.90" y2="739.50" stroke="#000" stroke-width="0.8" />
<line x1="353.90" y1="723.20" x2="355.90" y2="723.20" stroke="#000" stroke-width="0.8" />
<line x1="353.90" y1="706.90" x2="355.90" y2="706.90" stroke="#000" stroke-width="0.8" />
<line x1="351.90" y1="690.60" x2="355.90" y2="690.60" stroke="#000" stroke-width="1.2" />
<line x1="353.90" y1="674.30" x2="355.90" y2="674.30" stroke="#000" stroke-width="0.8" />
<line x1="353.90" y1="658.00" x2="355.90" y2="658.00" stroke="#000" stroke-width="0.8" />
<line x1="353.90" y1="641.70" x2="355.90" y2="641.70" stroke="#000" stroke-width="0.8" />
<line x1="353.90" y1="625.40" x2="355.90" y2="625.40" stroke="#000" stroke-width="0.8" />
<line x1="353.90" y1="609.10" x2="355.90" y2="609.10" stroke="#000" stroke-width="0.8" />
<line x1="351.90" y1="589.50" x2="355.90" y2="589.50" stroke="#000" stroke-width="1.2" />
<text transform="translate(342.90,772.10) rotate(-90)" font-size="14.5" text-anchor="middle" font-family='"Liberation Sans", sans-serif' fill="#222">0</text>
<text transform="translate(342.90,690.60) rotate(-90)" font-size="14.5" text-anchor="middle" font-family='"Liberation Sans", sans-serif' fill="#222">2</text>
<text transform="translate(342.90,591.00) rotate(-90)" font-size="14.5" text-anchor="middle" font-family='"Liberation Sans", sans-serif' fill="#222">4.4</text>
<line x1="355.90" y1="772.10" x2="355.90" y2="776.30" stroke="#000" stroke-width="1.4" />
<line x1="428.80" y1="772.10" x2="428.80" y2="776.30" stroke="#000" stroke-width="1.4" />
<line x1="479.10" y1="772.10" x2="479.10" y2="776.30" stroke="#000" stroke-width="1.4" />
<line x1="538.60" y1="772.10" x2="538.60" y2="776.30" stroke="#000" stroke-width="1.4" />
<line x1="520.85" y1="772.10" x2="520.85" y2="776.30" stroke="#000" stroke-width="1.2" />
<line x1="393.64" y1="772.10" x2="393.64" y2="774.60" stroke="#333" stroke-width="0.8" />
<line x1="443.94" y1="772.10" x2="443.94" y2="774.60" stroke="#333" stroke-width="0.8" />
<line x1="494.24" y1="772.10" x2="494.24" y2="774.60" stroke="#333" stroke-width="0.8" />
<line x1="402.50" y1="772.10" x2="402.50" y2="774.60" stroke="#333" stroke-width="0.8" />
<line x1="452.80" y1="772.10" x2="452.80" y2="774.60" stroke="#333" stroke-width="0.8" />
<line x1="503.10" y1="772.10" x2="503.10" y2="774.60" stroke="#333" stroke-width="0.8" />
<line x1="408.78" y1="772.10" x2="408.78" y2="774.60" stroke="#333" stroke-width="0.8" />
<line x1="459.08" y1="772.10" x2="459.08" y2="774.60" stroke="#333" stroke-width="0.8" />
<line x1="509.38" y1="772.10" x2="509.38" y2="774.60" stroke="#333" stroke-width="0.8" />
<line x1="413.66" y1="772.10" x2="413.66" y2="774.60" stroke="#333" stroke-width="0.8" />
<line x1="463.96" y1="772.10" x2="463.96" y2="774.60" stroke="#333" stroke-width="0.8" />
<line x1="514.26" y1="772.10" x2="514.26" y2="774.60" stroke="#333" stroke-width="0.8" />
<line x1="417.64" y1="772.10" x2="417.64" y2="774.60" stroke="#333" stroke-width="0.8" />
<line x1="467.94" y1="772.10" x2="467.94" y2="774.60" stroke="#333" stroke-width="0.8" />
<line x1="518.24" y1="772.10" x2="518.24" y2="774.60" stroke="#333" stroke-width="0.8" />
<line x1="421.01" y1="772.10" x2="421.01" y2="774.60" stroke="#333" stroke-width="0.8" />
<line x1="471.31" y1="772.10" x2="471.31" y2="774.60" stroke="#333" stroke-width="0.8" />
<line x1="521.61" y1="772.10" x2="521.61" y2="774.60" stroke="#333" stroke-width="0.8" />
<line x1="423.93" y1="772.10" x2="423.93" y2="774.60" stroke="#333" stroke-width="0.8" />
<line x1="474.23" y1="772.10" x2="474.23" y2="774.60" stroke="#333" stroke-width="0.8" />
<line x1="524.53" y1="772.10" x2="524.53" y2="774.60" stroke="#333" stroke-width="0.8" />
<line x1="426.50" y1="772.10" x2="426.50" y2="774.60" stroke="#333" stroke-width="0.8" />
<line x1="476.80" y1="772.10" x2="476.80" y2="774.60" stroke="#333" stroke-width="0.8" />
<line x1="527.10" y1="772.10" x2="527.10" y2="774.60" stroke="#333" stroke-width="0.8" />
<line x1="363.90" y1="772.10" x2="363.90" y2="774.60" stroke="#222" stroke-width="1.0" />
<line x1="371.90" y1="772.10" x2="371.90" y2="774.60" stroke="#222" stroke-width="1.0" />
<line x1="386.90" y1="772.10" x2="386.90" y2="774.60" stroke="#222" stroke-width="1.0" />
<line x1="376.40" y1="772.10" x2="376.40" y2="776.30" stroke="#000" stroke-width="1.3" />
<line x1="378.40" y1="772.10" x2="378.40" y2="776.30" stroke="#000" stroke-width="1.3" />
<line x1="380.10" y1="772.10" x2="380.10" y2="776.30" stroke="#000" stroke-width="1.3" />
<line x1="381.40" y1="772.10" x2="381.40" y2="776.30" stroke="#000" stroke-width="1.3" />
<text x="343.90" y="795.60" font-size="13.5" font-family='"Liberation Sans", sans-serif' fill="#222">-10</text>
<text x="365.90" y="790.90" font-size="11" font-family='"Liberation Sans", sans-serif' fill="#222">2.5</text>
<text x="418.50" y="795.60" font-size="13.8" font-family='"Liberation Sans", sans-serif' fill="#222">10</text>
<text x="436.00" y="790.90" font-size="11" font-family='"Liberation Sans", sans-serif' fill="#222">3</text>
<text x="468.80" y="795.60" font-size="13.8" font-family='"Liberation Sans", sans-serif' fill="#222">10</text>
<text x="486.30" y="790.90" font-size="11" font-family='"Liberation Sans", sans-serif' fill="#222">4</text>
<text x="521.30" y="795.60" font-size="13.8" font-family='"Liberation Sans", sans-serif' fill="#222">10</text>
<text x="538.80" y="790.90" font-size="11" font-family='"Liberation Sans", sans-serif' fill="#222">5.4</text>
<text x="444.60" y="581.00" font-size="14" text-anchor="middle" font-weight="normal" fill="#222" font-family='"Liberation Sans", sans-serif' >299-3-1.5 / <tspan fill="#f00">E2</tspan></text>
<text transform="translate(321,681) rotate(-90)" font-size="13.5" text-anchor="middle" font-family='"Liberation Sans", sans-serif' fill="#222">Count&#160; (10<tspan dy="-5.4" font-size="11">&#160;3</tspan><tspan dy="5.4">)</tspan></text>
<text x="446.00" y="818.70" font-size="13.5" text-anchor="middle" font-weight="normal" fill="#222" font-family='"Liberation Sans", sans-serif' >APC-A</text>
<line x1="429.60" y1="711.00" x2="429.60" y2="726.60" stroke="#000" stroke-width="1.6" />
<line x1="430.50" y1="718.80" x2="481.50" y2="718.80" stroke="#aaa" stroke-width="1.3" />
<line x1="429.60" y1="718.80" x2="435.00" y2="718.80" stroke="#000" stroke-width="1.6" />
<line x1="481.50" y1="718.80" x2="538.60" y2="718.80" stroke="#000" stroke-width="1.6" />
<text x="437.60" y="732.00" font-size="13" text-anchor="start" font-weight="normal" fill="#222" font-family='"Liberation Sans", sans-serif' >M1</text>
<text x="437.60" y="748.40" font-size="13.5" text-anchor="start" font-weight="normal" fill="#222" font-family='"Liberation Sans", sans-serif' >4.23%</text>
<clipPath id="clipB"><rect x="624.50" y="589.00" width="181.90" height="181.50"/></clipPath>
<path d="M624.60,720.64 L625.30,744.33 L626.20,741.49 L627.10,741.82 L628.00,741.51 L628.90,737.76 L629.80,737.00 L630.70,733.71 L631.60,729.59 L632.50,728.14 L633.40,722.23 L634.30,717.02 L635.20,714.87 L636.10,711.82 L637.00,709.02 L637.90,705.03 L638.80,702.32 L639.70,697.23 L640.60,684.11 L641.50,675.48 L642.40,671.04 L643.30,664.11 L644.20,658.56 L645.10,648.99 L646.00,650.71 L646.90,644.97 L647.80,642.24 L648.70,636.85 L649.60,626.99 L650.50,623.49 L651.40,615.65 L652.30,612.39 L653.20,615.59 L654.10,608.28 L655.00,614.38 L655.90,611.18 L656.80,611.98 L657.70,608.37 L658.60,616.22 L659.50,621.27 L660.40,626.31 L661.30,627.99 L662.20,638.33 L663.10,641.72 L664.00,645.05 L664.90,648.17 L665.80,651.45 L666.70,654.20 L667.60,663.35 L668.50,660.90 L669.40,660.37 L670.30,668.01 L671.20,666.96 L672.10,678.51 L673.00,672.75 L673.90,680.29 L674.80,688.40 L675.70,687.95 L676.60,692.09 L677.50,695.86 L678.40,695.35 L679.30,696.60 L680.20,698.58 L681.10,701.86 L682.00,698.77 L682.90,707.51 L683.80,706.73 L684.70,705.33 L685.60,709.93 L686.50,708.84 L687.40,709.38 L688.30,713.05 L689.20,711.27 L690.10,711.15 L691.00,712.35 L691.90,715.20 L692.80,714.19 L693.70,712.95 L694.60,713.56 L695.50,713.19 L696.40,713.20 L697.30,712.64 L698.20,708.88 L699.10,709.27 L700.00,710.26 L700.90,708.20 L701.80,712.21 L702.70,707.15 L703.60,707.41 L704.50,706.50 L705.40,709.26 L706.30,704.83 L707.20,703.15 L708.10,700.46 L709.00,703.94 L709.90,702.08 L710.80,701.15 L711.70,698.53 L712.60,699.21 L713.50,697.25 L714.40,699.53 L715.30,698.87 L716.20,698.13 L717.10,701.25 L718.00,699.04 L718.90,695.56 L719.80,698.01 L720.70,694.23 L721.60,693.46 L722.50,696.85 L723.40,696.78 L724.30,699.94 L725.20,694.37 L726.10,698.69 L727.00,698.52 L727.90,703.75 L728.80,703.79 L729.70,702.91 L730.60,702.73 L731.50,704.39 L732.40,702.09 L733.30,709.87 L734.20,704.30 L735.10,709.16 L736.00,712.26 L736.90,714.41 L737.80,717.09 L738.70,718.82 L739.60,720.83 L740.50,722.39 L741.40,724.21 L742.30,724.32 L743.20,728.44 L744.10,727.69 L745.00,732.17 L745.90,734.48 L746.80,735.93 L747.70,737.46 L748.60,739.14 L749.50,740.86 L750.40,742.43 L751.30,743.86 L752.20,745.60 L753.10,746.96 L754.00,748.71 L754.90,750.20 L755.80,749.26 L756.70,752.01 L757.60,753.18 L758.50,755.36 L759.40,754.83 L760.30,757.58 L761.20,757.74 L762.10,758.74 L763.00,759.55 L763.90,759.90 L764.80,760.44 L765.70,760.96 L766.60,761.47 L767.50,761.93 L768.40,762.67 L769.30,761.95 L770.20,763.43 L771.10,763.77 L772.00,763.61 L772.90,764.57 L773.80,765.99 L774.70,764.94 L775.60,765.84 L776.50,765.74 L777.40,765.89 L778.30,767.50 L779.20,766.93 L780.10,766.96 L781.00,767.50 L781.90,767.35 L782.80,768.03 L783.70,768.00 L784.60,768.42 L785.50,768.15 L786.40,768.48 L787.30,768.62 L788.20,769.48 L789.10,769.11 L790.00,769.39 L790.90,769.60 L791.80,769.83 L792.70,770.12 L793.60,770.40 L794.50,770.50 L795.40,770.50 L796.30,770.50 L797.20,770.50 L798.10,770.50 L799.00,770.50 L799.90,770.50 L800.80,770.50 L801.70,770.50 L802.60,770.50 L803.50,770.50 L804.40,770.50 L805.30,770.50 L806.20,770.50 L806.40,770.50 L806.40,770.50 L624.50,770.50 Z" fill="#fde8e8" stroke="none" clip-path="url(#clipB)"/>
<path d="M624.60,720.64 L625.30,744.33 L626.20,741.49 L627.10,741.82 L628.00,741.51 L628.90,737.76 L629.80,737.00 L630.70,733.71 L631.60,729.59 L632.50,728.14 L633.40,722.23 L634.30,717.02 L635.20,714.87 L636.10,711.82 L637.00,709.02 L637.90,705.03 L638.80,702.32 L639.70,697.23 L640.60,684.11 L641.50,675.48 L642.40,671.04 L643.30,664.11 L644.20,658.56 L645.10,648.99 L646.00,650.71 L646.90,644.97 L647.80,642.24 L648.70,636.85 L649.60,626.99 L650.50,623.49 L651.40,615.65 L652.30,612.39 L653.20,615.59 L654.10,608.28 L655.00,614.38 L655.90,611.18 L656.80,611.98 L657.70,608.37 L658.60,616.22 L659.50,621.27 L660.40,626.31 L661.30,627.99 L662.20,638.33 L663.10,641.72 L664.00,645.05 L664.90,648.17 L665.80,651.45 L666.70,654.20 L667.60,663.35 L668.50,660.90 L669.40,660.37 L670.30,668.01 L671.20,666.96 L672.10,678.51 L673.00,672.75 L673.90,680.29 L674.80,688.40 L675.70,687.95 L676.60,692.09 L677.50,695.86 L678.40,695.35 L679.30,696.60 L680.20,698.58 L681.10,701.86 L682.00,698.77 L682.90,707.51 L683.80,706.73 L684.70,705.33 L685.60,709.93 L686.50,708.84 L687.40,709.38 L688.30,713.05 L689.20,711.27 L690.10,711.15 L691.00,712.35 L691.90,715.20 L692.80,714.19 L693.70,712.95 L694.60,713.56 L695.50,713.19 L696.40,713.20 L697.30,712.64 L698.20,708.88 L699.10,709.27 L700.00,710.26 L700.90,708.20 L701.80,712.21 L702.70,707.15 L703.60,707.41 L704.50,706.50 L705.40,709.26 L706.30,704.83 L707.20,703.15 L708.10,700.46 L709.00,703.94 L709.90,702.08 L710.80,701.15 L711.70,698.53 L712.60,699.21 L713.50,697.25 L714.40,699.53 L715.30,698.87 L716.20,698.13 L717.10,701.25 L718.00,699.04 L718.90,695.56 L719.80,698.01 L720.70,694.23 L721.60,693.46 L722.50,696.85 L723.40,696.78 L724.30,699.94 L725.20,694.37 L726.10,698.69 L727.00,698.52 L727.90,703.75 L728.80,703.79 L729.70,702.91 L730.60,702.73 L731.50,704.39 L732.40,702.09 L733.30,709.87 L734.20,704.30 L735.10,709.16 L736.00,712.26 L736.90,714.41 L737.80,717.09 L738.70,718.82 L739.60,720.83 L740.50,722.39 L741.40,724.21 L742.30,724.32 L743.20,728.44 L744.10,727.69 L745.00,732.17 L745.90,734.48 L746.80,735.93 L747.70,737.46 L748.60,739.14 L749.50,740.86 L750.40,742.43 L751.30,743.86 L752.20,745.60 L753.10,746.96 L754.00,748.71 L754.90,750.20 L755.80,749.26 L756.70,752.01 L757.60,753.18 L758.50,755.36 L759.40,754.83 L760.30,757.58 L761.20,757.74 L762.10,758.74 L763.00,759.55 L763.90,759.90 L764.80,760.44 L765.70,760.96 L766.60,761.47 L767.50,761.93 L768.40,762.67 L769.30,761.95 L770.20,763.43 L771.10,763.77 L772.00,763.61 L772.90,764.57 L773.80,765.99 L774.70,764.94 L775.60,765.84 L776.50,765.74 L777.40,765.89 L778.30,767.50 L779.20,766.93 L780.10,766.96 L781.00,767.50 L781.90,767.35 L782.80,768.03 L783.70,768.00 L784.60,768.42 L785.50,768.15 L786.40,768.48 L787.30,768.62 L788.20,769.48 L789.10,769.11 L790.00,769.39 L790.90,769.60 L791.80,769.83 L792.70,770.12 L793.60,770.40 L794.50,770.50 L795.40,770.50 L796.30,770.50 L797.20,770.50 L798.10,770.50 L799.00,770.50 L799.90,770.50 L800.80,770.50 L801.70,770.50 L802.60,770.50 L803.50,770.50 L804.40,770.50 L805.30,770.50 L806.20,770.50 L806.40,770.50" fill="none" stroke="#f00" stroke-width="1.4" stroke-linejoin="round" clip-path="url(#clipB)"/>
<rect x="624.50" y="589.00" width="181.90" height="181.50" fill="none" stroke="#000" stroke-width="1.4"/>
<line x1="620.50" y1="770.50" x2="624.50" y2="770.50" stroke="#000" stroke-width="1.2" />
<line x1="622.50" y1="761.52" x2="624.50" y2="761.52" stroke="#000" stroke-width="0.8" />
<line x1="622.50" y1="752.54" x2="624.50" y2="752.54" stroke="#000" stroke-width="0.8" />
<line x1="622.50" y1="743.56" x2="624.50" y2="743.56" stroke="#000" stroke-width="0.8" />
<line x1="622.50" y1="734.58" x2="624.50" y2="734.58" stroke="#000" stroke-width="0.8" />
<line x1="620.50" y1="725.60" x2="624.50" y2="725.60" stroke="#000" stroke-width="1.2" />
<line x1="622.50" y1="716.62" x2="624.50" y2="716.62" stroke="#000" stroke-width="0.8" />
<line x1="622.50" y1="707.64" x2="624.50" y2="707.64" stroke="#000" stroke-width="0.8" />
<line x1="622.50" y1="698.66" x2="624.50" y2="698.66" stroke="#000" stroke-width="0.8" />
<line x1="622.50" y1="689.68" x2="624.50" y2="689.68" stroke="#000" stroke-width="0.8" />
<line x1="620.50" y1="680.70" x2="624.50" y2="680.70" stroke="#000" stroke-width="1.2" />
<line x1="622.50" y1="671.72" x2="624.50" y2="671.72" stroke="#000" stroke-width="0.8" />
<line x1="622.50" y1="662.74" x2="624.50" y2="662.74" stroke="#000" stroke-width="0.8" />
<line x1="622.50" y1="653.76" x2="624.50" y2="653.76" stroke="#000" stroke-width="0.8" />
<line x1="622.50" y1="644.78" x2="624.50" y2="644.78" stroke="#000" stroke-width="0.8" />
<line x1="620.50" y1="635.80" x2="624.50" y2="635.80" stroke="#000" stroke-width="1.2" />
<line x1="622.50" y1="626.82" x2="624.50" y2="626.82" stroke="#000" stroke-width="0.8" />
<line x1="622.50" y1="617.84" x2="624.50" y2="617.84" stroke="#000" stroke-width="0.8" />
<line x1="622.50" y1="608.86" x2="624.50" y2="608.86" stroke="#000" stroke-width="0.8" />
<line x1="622.50" y1="599.88" x2="624.50" y2="599.88" stroke="#000" stroke-width="0.8" />
<line x1="620.50" y1="589.00" x2="624.50" y2="589.00" stroke="#000" stroke-width="1.2" />
<text transform="translate(611.50,770.50) rotate(-90)" font-size="14.5" text-anchor="middle" font-family='"Liberation Sans", sans-serif' fill="#222">0</text>
<text transform="translate(611.50,725.60) rotate(-90)" font-size="14.5" text-anchor="middle" font-family='"Liberation Sans", sans-serif' fill="#222">1</text>
<text transform="translate(611.50,680.70) rotate(-90)" font-size="14.5" text-anchor="middle" font-family='"Liberation Sans", sans-serif' fill="#222">2</text>
<text transform="translate(611.50,635.80) rotate(-90)" font-size="14.5" text-anchor="middle" font-family='"Liberation Sans", sans-serif' fill="#222">3</text>
<text transform="translate(611.50,589.80) rotate(-90)" font-size="14.5" text-anchor="middle" font-family='"Liberation Sans", sans-serif' fill="#222">4</text>
<line x1="624.50" y1="770.50" x2="624.50" y2="774.70" stroke="#000" stroke-width="1.4" />
<line x1="697.50" y1="770.50" x2="697.50" y2="774.70" stroke="#000" stroke-width="1.4" />
<line x1="747.70" y1="770.50" x2="747.70" y2="774.70" stroke="#000" stroke-width="1.4" />
<line x1="806.40" y1="770.50" x2="806.40" y2="774.70" stroke="#000" stroke-width="1.4" />
<line x1="789.37" y1="770.50" x2="789.37" y2="774.70" stroke="#000" stroke-width="1.2" />
<line x1="662.41" y1="770.50" x2="662.41" y2="773.00" stroke="#333" stroke-width="0.8" />
<line x1="712.61" y1="770.50" x2="712.61" y2="773.00" stroke="#333" stroke-width="0.8" />
<line x1="762.81" y1="770.50" x2="762.81" y2="773.00" stroke="#333" stroke-width="0.8" />
<line x1="671.25" y1="770.50" x2="671.25" y2="773.00" stroke="#333" stroke-width="0.8" />
<line x1="721.45" y1="770.50" x2="721.45" y2="773.00" stroke="#333" stroke-width="0.8" />
<line x1="771.65" y1="770.50" x2="771.65" y2="773.00" stroke="#333" stroke-width="0.8" />
<line x1="677.52" y1="770.50" x2="677.52" y2="773.00" stroke="#333" stroke-width="0.8" />
<line x1="727.72" y1="770.50" x2="727.72" y2="773.00" stroke="#333" stroke-width="0.8" />
<line x1="777.92" y1="770.50" x2="777.92" y2="773.00" stroke="#333" stroke-width="0.8" />
<line x1="682.39" y1="770.50" x2="682.39" y2="773.00" stroke="#333" stroke-width="0.8" />
<line x1="732.59" y1="770.50" x2="732.59" y2="773.00" stroke="#333" stroke-width="0.8" />
<line x1="782.79" y1="770.50" x2="782.79" y2="773.00" stroke="#333" stroke-width="0.8" />
<line x1="686.36" y1="770.50" x2="686.36" y2="773.00" stroke="#333" stroke-width="0.8" />
<line x1="736.56" y1="770.50" x2="736.56" y2="773.00" stroke="#333" stroke-width="0.8" />
<line x1="786.76" y1="770.50" x2="786.76" y2="773.00" stroke="#333" stroke-width="0.8" />
<line x1="689.72" y1="770.50" x2="689.72" y2="773.00" stroke="#333" stroke-width="0.8" />
<line x1="739.92" y1="770.50" x2="739.92" y2="773.00" stroke="#333" stroke-width="0.8" />
<line x1="790.12" y1="770.50" x2="790.12" y2="773.00" stroke="#333" stroke-width="0.8" />
<line x1="692.64" y1="770.50" x2="692.64" y2="773.00" stroke="#333" stroke-width="0.8" />
<line x1="742.84" y1="770.50" x2="742.84" y2="773.00" stroke="#333" stroke-width="0.8" />
<line x1="793.04" y1="770.50" x2="793.04" y2="773.00" stroke="#333" stroke-width="0.8" />
<line x1="695.20" y1="770.50" x2="695.20" y2="773.00" stroke="#333" stroke-width="0.8" />
<line x1="745.40" y1="770.50" x2="745.40" y2="773.00" stroke="#333" stroke-width="0.8" />
<line x1="795.60" y1="770.50" x2="795.60" y2="773.00" stroke="#333" stroke-width="0.8" />
<line x1="632.50" y1="770.50" x2="632.50" y2="773.00" stroke="#222" stroke-width="1.0" />
<line x1="640.50" y1="770.50" x2="640.50" y2="773.00" stroke="#222" stroke-width="1.0" />
<line x1="655.50" y1="770.50" x2="655.50" y2="773.00" stroke="#222" stroke-width="1.0" />
<line x1="645.00" y1="770.50" x2="645.00" y2="774.70" stroke="#000" stroke-width="1.3" />
<line x1="647.00" y1="770.50" x2="647.00" y2="774.70" stroke="#000" stroke-width="1.3" />
<line x1="648.70" y1="770.50" x2="648.70" y2="774.70" stroke="#000" stroke-width="1.3" />
<line x1="650.00" y1="770.50" x2="650.00" y2="774.70" stroke="#000" stroke-width="1.3" />
<text x="612.50" y="794.00" font-size="13.5" font-family='"Liberation Sans", sans-serif' fill="#222">-10</text>
<text x="634.50" y="789.30" font-size="11" font-family='"Liberation Sans", sans-serif' fill="#222">2.5</text>
<text x="687.20" y="794.00" font-size="13.8" font-family='"Liberation Sans", sans-serif' fill="#222">10</text>
<text x="704.70" y="789.30" font-size="11" font-family='"Liberation Sans", sans-serif' fill="#222">3</text>
<text x="737.40" y="794.00" font-size="13.8" font-family='"Liberation Sans", sans-serif' fill="#222">10</text>
<text x="754.90" y="789.30" font-size="11" font-family='"Liberation Sans", sans-serif' fill="#222">4</text>
<text x="789.10" y="794.00" font-size="13.8" font-family='"Liberation Sans", sans-serif' fill="#222">10</text>
<text x="806.60" y="789.30" font-size="11" font-family='"Liberation Sans", sans-serif' fill="#222">5.4</text>
<rect x="702.6" y="719" width="51.4" height="32.5" fill="#fff"/>
<clipPath id="lbx"><rect x="702.6" y="719" width="51.4" height="32.5"/></clipPath>
<path d="M730.60,702.73 L731.50,704.39 L732.40,702.09 L733.30,709.87 L734.20,704.30 L735.10,709.16 L736.00,712.26 L736.90,714.41 L737.80,717.09 L738.70,718.82 L739.60,720.83 L740.50,722.39 L741.40,724.21 L742.30,724.32 L743.20,728.44 L744.10,727.69 L745.00,732.17 L745.90,734.48 L746.80,735.93 L747.70,737.46 L748.60,739.14 L749.50,740.86 L750.40,742.43 L751.30,743.86 L752.20,745.60 L753.10,746.96 L754.00,748.71 L754.90,750.20 L755.80,749.26 L756.70,752.01 L757.60,753.18 L758.50,755.36 L759.40,754.83" fill="none" stroke="#f4a0a0" stroke-width="1" stroke-dasharray="1,1.2" clip-path="url(#lbx)"/>
<text x="712.80" y="581.00" font-size="14" text-anchor="middle" font-weight="normal" fill="#222" font-family='"Liberation Sans", sans-serif' >292-3-1.5 / <tspan fill="#f00">E2</tspan></text>
<text transform="translate(590.5,680.7) rotate(-90)" font-size="13.5" text-anchor="middle" font-family='"Liberation Sans", sans-serif' fill="#222">Count&#160; (10<tspan dy="-5.4" font-size="11">&#160;3</tspan><tspan dy="5.4">)</tspan></text>
<text x="715.00" y="818.70" font-size="13.5" text-anchor="middle" font-weight="normal" fill="#222" font-family='"Liberation Sans", sans-serif' >APC-A</text>
<line x1="698.00" y1="710.20" x2="698.00" y2="725.50" stroke="#000" stroke-width="1.6" />
<line x1="699.00" y1="717.90" x2="757.30" y2="717.90" stroke="#aaa" stroke-width="1.3" />
<line x1="698.00" y1="717.90" x2="703.50" y2="717.90" stroke="#000" stroke-width="1.8" />
<line x1="757.30" y1="717.90" x2="806.40" y2="717.90" stroke="#000" stroke-width="2.2" />
<text x="705.80" y="730.70" font-size="13" text-anchor="start" font-weight="normal" fill="#222" font-family='"Liberation Sans", sans-serif' >M1</text>
<text x="705.80" y="747.00" font-size="13.5" text-anchor="start" font-weight="normal" fill="#222" font-family='"Liberation Sans", sans-serif' >31.78%</text>
<text x="450.50" y="863.70" font-size="22.6" text-anchor="middle" font-weight="normal" fill="#000" font-family='"Liberation Sans", sans-serif' >Group A Normal</text>
<text x="711.40" y="866.80" font-size="22.6" text-anchor="middle" font-weight="normal" fill="#000" font-family='"Liberation Sans", sans-serif' >Group B Model</text>
<text x="1121.70" y="563.80" font-size="22.7" text-anchor="middle" font-weight="bold" fill="#000" font-family='"Liberation Sans", sans-serif' >Anti-RBC antibody</text>
<rect x="1065.8" y="775.21" width="44.9" height="48.89" fill="#000"/>
<line x1="1088.20" y1="775.21" x2="1088.20" y2="773.52" stroke="#000" stroke-width="1.3" />
<line x1="1070.00" y1="773.52" x2="1100.60" y2="773.52" stroke="#000" stroke-width="1.3" />
<rect x="1133.7" y="657.81" width="45.3" height="166.29" fill="#f44242"/>
<line x1="1156.40" y1="657.81" x2="1156.40" y2="629.76" stroke="#f44242" stroke-width="1.3" />
<line x1="1145.50" y1="629.76" x2="1168.20" y2="629.76" stroke="#f44242" stroke-width="1.3" />
<line x1="1043.10" y1="593.00" x2="1043.10" y2="825.30" stroke="#000" stroke-width="2.4" />
<line x1="1041.90" y1="824.10" x2="1203.00" y2="824.10" stroke="#000" stroke-width="2.4" />
<line x1="1033.60" y1="824.10" x2="1043.10" y2="824.10" stroke="#000" stroke-width="2.4" />
<text x="1021.09" y="829.90" font-size="16.2" text-anchor="start" font-weight="bold" fill="#000" font-family='"Liberation Sans", sans-serif' letter-spacing="1.2">0</text>
<line x1="1033.60" y1="747.47" x2="1043.10" y2="747.47" stroke="#000" stroke-width="2.4" />
<text x="990.47" y="753.27" font-size="16.2" text-anchor="start" font-weight="bold" fill="#000" font-family='"Liberation Sans", sans-serif' letter-spacing="1.2">5000</text>
<line x1="1033.60" y1="670.83" x2="1043.10" y2="670.83" stroke="#000" stroke-width="2.4" />
<text x="980.26" y="676.63" font-size="16.2" text-anchor="start" font-weight="bold" fill="#000" font-family='"Liberation Sans", sans-serif' letter-spacing="1.2">10000</text>
<line x1="1033.60" y1="594.20" x2="1043.10" y2="594.20" stroke="#000" stroke-width="2.4" />
<text x="980.26" y="600.00" font-size="16.2" text-anchor="start" font-weight="bold" fill="#000" font-family='"Liberation Sans", sans-serif' letter-spacing="1.2">15000</text>
<text transform="translate(969,709.2) rotate(-90)" font-size="19" text-anchor="middle" font-weight="bold" font-family='"Liberation Sans", sans-serif'>MFI</text>
<rect x="1256" y="603.5" width="24.8" height="11.8" fill="#000"/>
<rect x="1256" y="634" width="24.8" height="11.8" fill="#f44242"/>
<text x="1295.60" y="616.30" font-size="19.8" text-anchor="start" font-weight="normal" fill="#000" font-family='"Liberation Sans", sans-serif' >Group A Normal</text>
<text x="1295.60" y="646.80" font-size="19.8" text-anchor="start" font-weight="normal" fill="#000" font-family='"Liberation Sans", sans-serif' >Group B Model</text>
</svg>
</body></html>
